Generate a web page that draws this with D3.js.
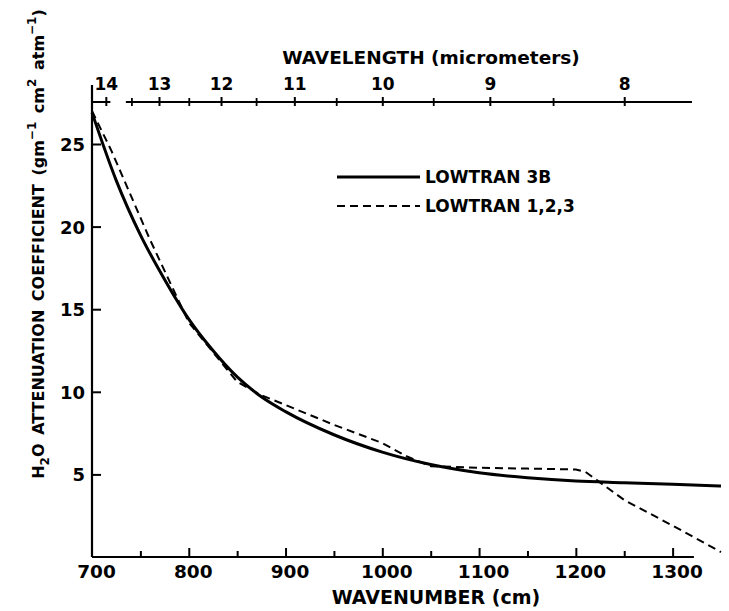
<!DOCTYPE html>
<html>
<head>
<meta charset="utf-8">
<script src="https://cdn.jsdelivr.net/npm/d3@7"></script>
<style>
  body { margin: 0; background: #fff; }
  svg { display: block; }
  text { font-family: "DejaVu Sans", sans-serif; font-weight: bold; fill: #000; }
</style>
</head>
<body>
<svg id="chart" width="729" height="611"></svg>
<script>
// ---- data ----
const wavenumber3B = [700, 725, 750, 775, 800, 825, 850, 875, 900, 950, 1000, 1050, 1100, 1150, 1200, 1250, 1300, 1350];
const lowtran3B    = [26.9, 22.8, 19.5, 16.8, 14.4, 12.5, 10.9, 9.7, 8.8, 7.4, 6.35, 5.6, 5.1, 4.8, 4.6, 4.5, 4.4, 4.3];

const wavenumber123 = [700, 720, 760, 800, 850, 875, 900, 950, 1000, 1025, 1050, 1100, 1150, 1200, 1210, 1250, 1300, 1350];
const lowtran123    = [27.0, 24.6, 19.2, 14.2, 10.6, 9.8, 9.2, 8.0, 6.9, 6.1, 5.5, 5.4, 5.35, 5.3, 5.15, 3.45, 1.9, 0.3];

const xTicksMajor = [700, 800, 900, 1000, 1100, 1200, 1300];
const xTicksMinor = [750, 850, 950, 1050, 1150, 1250];
const yTicks = [5, 10, 15, 20, 25];
const wavelengthLabels = [14, 13, 12, 11, 10, 9, 8];
const wavelengthHalf = [13.5, 12.5, 11.5, 10.5, 9.5, 8.5];

const seriesNames = ["LOWTRAN 3B", "LOWTRAN 1,2,3"];

// ---- layout ----
const svg = d3.select("#chart");
const x = d3.scaleLinear().domain([700, 1350]).range([92, 721]);
const y = d3.scaleLinear().domain([0, 25]).range([557, 144]);

const ink = "#000";

// y axis (ticks inward)
const yAxis = d3.axisLeft(y).tickValues(yTicks).tickSize(-9).tickPadding(16).tickFormat(d3.format("d"));
const gy = svg.append("g").attr("transform", `translate(${x(700)},0)`).call(yAxis);
gy.select(".domain").remove();
gy.selectAll(".tick line").attr("stroke", ink).attr("stroke-width", 2);
gy.selectAll(".tick text").style("font-size", "18px").attr("dy", "0.36em").attr("x", -7);
svg.append("line").attr("x1", x(700)).attr("x2", x(700)).attr("y1", y(0)).attr("y2", 85)
  .attr("stroke", ink).attr("stroke-width", 2.2);

// bottom axis
const gxMaj = svg.append("g").attr("transform", `translate(0,${y(0)})`)
  .call(d3.axisBottom(x).tickValues(xTicksMajor).tickSize(-9).tickPadding(0).tickFormat(d3.format("d")));
gxMaj.select(".domain").remove();
gxMaj.selectAll(".tick line").attr("stroke", ink).attr("stroke-width", 2);
gxMaj.selectAll(".tick text").style("font-size", "18.5px").attr("y", 8).attr("dx", 4);
gxMaj.selectAll(".tick").filter(d => d === 700).select("line").remove();
const gxMin = svg.append("g").attr("transform", `translate(0,${y(0)})`)
  .call(d3.axisBottom(x).tickValues(xTicksMinor).tickSize(-6).tickFormat(""));
gxMin.select(".domain").remove();
gxMin.selectAll(".tick line").attr("stroke", ink).attr("stroke-width", 2);
svg.append("line").attr("x1", x(700)).attr("x2", x(1322)).attr("y1", y(0)).attr("y2", y(0))
  .attr("stroke", ink).attr("stroke-width", 2.2);

svg.append("text").attr("x", 436).attr("y", 604).attr("text-anchor", "middle")
  .style("font-size", "19px").text("WAVENUMBER (cm)");

// top axis (wavelength in micrometers)
const topY = 102;
const gt = svg.append("g").attr("transform", `translate(0,${topY})`)
  .call(d3.axisTop(x).tickValues(wavelengthLabels.map(l => 1e4 / l)).tickSize(5).tickPadding(7)
    .tickFormat(d => Math.round(1e4 / d)));
gt.select(".domain").remove();
gt.selectAll(".tick line").attr("stroke", ink).attr("stroke-width", 2).attr("y2", -5).attr("y1", 4);
gt.selectAll(".tick text").style("font-size", "17px");
const gtMin = svg.append("g").attr("transform", `translate(0,${topY})`)
  .call(d3.axisTop(x).tickValues(wavelengthHalf.map(l => 1e4 / l)).tickSize(4).tickFormat(""));
gtMin.select(".domain").remove();
gtMin.selectAll(".tick line").attr("stroke", ink).attr("stroke-width", 1.8).attr("y1", 4);
svg.append("line").attr("x1", x(700)).attr("x2", x(719)).attr("y1", topY).attr("y2", topY)
  .attr("stroke", ink).attr("stroke-width", 2);
svg.append("line").attr("x1", x(735)).attr("x2", x(1320)).attr("y1", topY).attr("y2", topY)
  .attr("stroke", ink).attr("stroke-width", 2);

svg.append("text").attr("x", 431).attr("y", 64).attr("text-anchor", "middle")
  .style("font-size", "18.5px").text("WAVELENGTH (micrometers)");

// y title
const yt = svg.append("text").attr("transform", "translate(44,244) rotate(-90)")
  .attr("text-anchor", "middle").style("font-size", "16px").style("word-spacing", "3px");
yt.append("tspan").text("H");
yt.append("tspan").attr("dy", 5).style("font-size", "12px").text("2");
yt.append("tspan").attr("dy", -5).text("O ATTENUATION COEFFICIENT (gm");
yt.append("tspan").attr("dy", -8).style("font-size", "12px").text("\u22121");
yt.append("tspan").attr("dy", 8).text(" cm");
yt.append("tspan").attr("dy", -8).style("font-size", "12px").text("2");
yt.append("tspan").attr("dy", 8).text(" atm");
yt.append("tspan").attr("dy", -8).style("font-size", "12px").text("\u22121");
yt.append("tspan").attr("dy", 8).text(")");

// curves
const line = d3.line().x(d => x(d[0])).y(d => y(d[1])).curve(d3.curveMonotoneX);
svg.append("path").datum(wavenumber3B.map((w, i) => [w, lowtran3B[i]]))
  .attr("d", line).attr("fill", "none").attr("stroke", ink).attr("stroke-width", 3);
const line2 = d3.line().x(d => x(d[0])).y(d => y(d[1])).curve(d3.curveLinear);
svg.append("path").datum(wavenumber123.map((w, i) => [w, lowtran123[i]]))
  .attr("d", line2).attr("fill", "none").attr("stroke", ink).attr("stroke-width", 2)
  .attr("stroke-dasharray", "8,5");

// legend
const leg = [
  { name: seriesNames[0], y: 177, dash: null, w: 3 },
  { name: seriesNames[1], y: 206, dash: "8,5", w: 2 }
];
leg.forEach(l => {
  svg.append("line").attr("x1", 337).attr("x2", 420).attr("y1", l.y).attr("y2", l.y)
    .attr("stroke", ink).attr("stroke-width", l.w).attr("stroke-dasharray", l.dash);
  svg.append("text").attr("x", 425).attr("y", l.y).attr("dy", "0.36em")
    .style("font-size", "17px").text(l.name);
});
</script>
</body>
</html>
